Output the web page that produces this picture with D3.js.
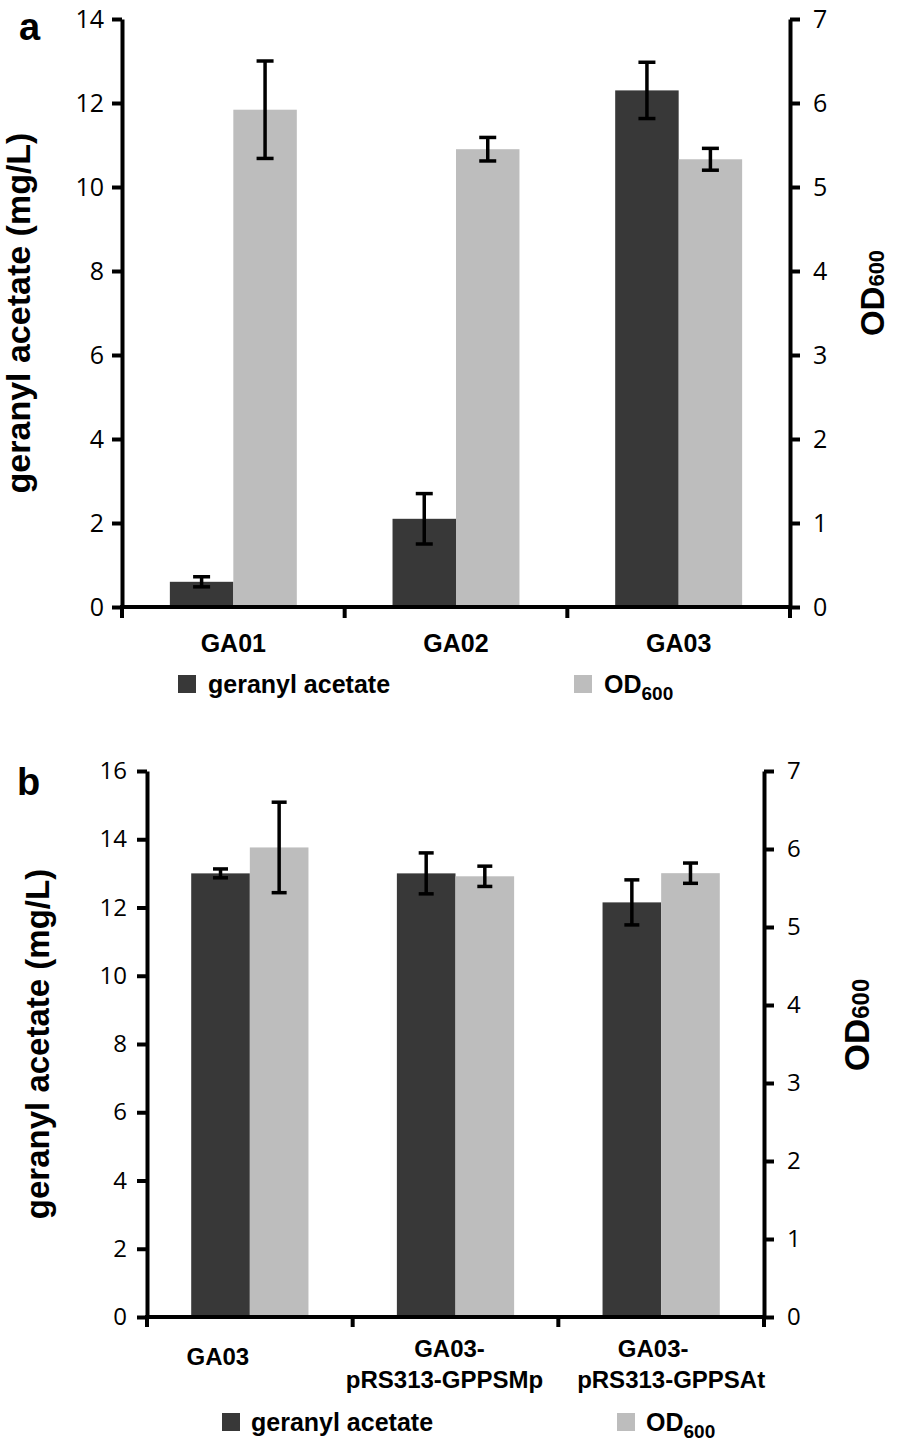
<!DOCTYPE html>
<html>
<head>
<meta charset="utf-8">
<script src="https://cdn.jsdelivr.net/npm/d3@7"></script>
<style>
  html, body { margin: 0; padding: 0; background: #fff; }
  svg { display: block; }
</style>
</head>
<body>
<svg id="chart" width="898" height="1445"></svg>
<script>
// ---------------- DATA ----------------
// Panel a
const catsA = ["GA01", "GA02", "GA03"];
const geranylA = [0.6, 2.1, 12.3];
const geranylErrA = [0.12, 0.6, 0.67];
const odA = [5.92, 5.45, 5.33];
const odErrA = [0.58, 0.14, 0.13];
const leftTicksA = [0, 2, 4, 6, 8, 10, 12, 14];
const rightTicksA = [0, 1, 2, 3, 4, 5, 6, 7];

// Panel b
const catsB = ["GA03", "GA03-pRS313-GPPSMp", "GA03-pRS313-GPPSAt"];
const catLinesB = [["GA03"], ["GA03-", "pRS313-GPPSMp"], ["GA03-", "pRS313-GPPSAt"]];
const geranylB = [13.0, 13.0, 12.15];
const geranylErrB = [0.13, 0.6, 0.66];
const odB = [6.02, 5.65, 5.69];
const odErrB = [0.58, 0.13, 0.13];
const leftTicksB = [0, 2, 4, 6, 8, 10, 12, 14, 16];
const rightTicksB = [0, 1, 2, 3, 4, 5, 6, 7];

const seriesKeys = ["geranyl", "od"];
const leftTitle = "geranyl acetate (mg/L)";
const legendLabels = ["geranyl acetate", "OD"];
const odSub = "600";

// ---------------- STYLE ----------------
const DARK = "#383838", LIGHT = "#bdbdbd";
const BOLD = "'Liberation Sans', Arial, Helvetica, sans-serif";
const TICKFONT = "'Open Sans', 'Noto Sans', sans-serif";
const SW = 4;

const svg = d3.select("#chart");

function drawPanel(cfg) {
  const g = svg.append("g");
  const y = d3.scaleLinear().domain([0, cfg.leftMax]).range([cfg.yBot, cfg.yTop]);
  const y2 = d3.scaleLinear().domain([0, cfg.rightMax]).range([cfg.yBot, cfg.yTop]);
  const x = d3.scaleBand().domain(cfg.cats).range([cfg.x0, cfg.x1]).padding(0);
  const xs = d3.scaleBand().domain(seriesKeys).range([0, x.bandwidth()])
    .paddingInner(0).paddingOuter(0.754);

  const rows = cfg.cats.map((c, i) => ({
    cat: c,
    vals: [
      { key: "geranyl", v: cfg.g[i], e: cfg.gErr[i], sc: y, fill: DARK },
      { key: "od", v: cfg.od[i], e: cfg.odErr[i], sc: y2, fill: LIGHT }
    ]
  }));

  const grp = g.selectAll("g.cat").data(rows).join("g")
    .attr("transform", d => `translate(${x(d.cat)},0)`);

  grp.selectAll("rect").data(d => d.vals).join("rect")
    .attr("x", d => xs(d.key))
    .attr("width", xs.bandwidth())
    .attr("y", d => d.sc(d.v))
    .attr("height", d => d.sc(0) - d.sc(d.v))
    .attr("fill", d => d.fill);

  // error bars
  const eb = grp.selectAll("g.eb").data(d => d.vals).join("g")
    .attr("transform", d => `translate(${xs(d.key) + xs.bandwidth() / 2},0)`)
    .attr("stroke", "#000").attr("stroke-width", 3.5);
  eb.append("line").attr("x1", 0).attr("x2", 0)
    .attr("y1", d => d.sc(d.v + d.e)).attr("y2", d => d.sc(d.v - d.e));
  eb.append("line").attr("x1", -cfg.cap).attr("x2", cfg.cap)
    .attr("y1", d => d.sc(d.v + d.e)).attr("y2", d => d.sc(d.v + d.e));
  eb.append("line").attr("x1", -cfg.cap).attr("x2", cfg.cap)
    .attr("y1", d => d.sc(d.v - d.e)).attr("y2", d => d.sc(d.v - d.e));

  // left axis
  const la = g.append("g").attr("transform", `translate(${cfg.x0},0)`)
    .call(d3.axisLeft(y).tickValues(cfg.leftTicks).tickSize(10).tickSizeOuter(0)
      .tickPadding(cfg.lpad).tickFormat(d3.format("d")));
  // right axis
  const ra = g.append("g").attr("transform", `translate(${cfg.x1},0)`)
    .call(d3.axisRight(y2).tickValues(cfg.rightTicks).tickSize(10).tickSizeOuter(0)
      .tickPadding(cfg.rpad).tickFormat(d3.format("d")));
  [la, ra].forEach(a => {
    a.selectAll("path.domain").attr("stroke", "#000").attr("stroke-width", SW);
    a.selectAll(".tick line").attr("stroke", "#000").attr("stroke-width", SW);
    a.selectAll(".tick text").attr("fill", "#000")
      .style("font-family", TICKFONT).style("font-size", cfg.tickFont + "px");
  });

  // x axis
  const xa = g.append("g");
  xa.append("line").attr("x1", cfg.x0 - SW / 2).attr("x2", cfg.x1 + SW / 2)
    .attr("y1", cfg.yBot).attr("y2", cfg.yBot)
    .attr("stroke", "#000").attr("stroke-width", SW);
  const bounds = cfg.cats.map(c => x(c)).concat([x.range()[1]]);
  xa.selectAll("line.xt").data(bounds).join("line").attr("class", "xt")
    .attr("x1", d => d).attr("x2", d => d)
    .attr("y1", cfg.yBot).attr("y2", cfg.yBot + cfg.xTick)
    .attr("stroke", "#000").attr("stroke-width", SW);

  // category labels
  const lab = xa.selectAll("text.cl").data(cfg.lines.map((l, i) => ({ l, i }))).join("text")
    .attr("class", "cl")
    .attr("text-anchor", "middle")
    .style("font-family", BOLD).style("font-weight", "bold")
    .style("font-size", cfg.catFont + "px");
  lab.each(function (d) {
    const t = d3.select(this);
    const cx = x(cfg.cats[d.i]) + x.bandwidth() / 2;
    const base = d.l.length === 1 ? cfg.catY1 : cfg.catY2;
    d.l.forEach((s, j) => {
      t.append("tspan").attr("x", cx + (cfg.labelDx ? cfg.labelDx[d.i][j] : 0))
        .attr("y", base + j * cfg.lineH).text(s);
    });
  });

  // left title
  g.append("text")
    .attr("transform", `translate(${cfg.ltX},${(cfg.yTop + cfg.yBot) / 2}) rotate(-90)`)
    .attr("text-anchor", "middle")
    .style("font-family", BOLD).style("font-weight", "bold")
    .style("font-size", cfg.ltFont + "px")
    .text(leftTitle);

  // right title OD600
  const rt = g.append("text")
    .attr("transform", `translate(${cfg.rtX},${cfg.rtY}) rotate(-90)`)
    .attr("text-anchor", "middle")
    .style("font-family", BOLD).style("font-weight", "bold")
    .style("font-size", cfg.rtFont + "px");
  rt.append("tspan").text(legendLabels[1]);
  rt.append("tspan").style("font-size", Math.round(cfg.rtFont * 0.68) + "px").text(odSub);

  // panel letter
  g.append("text").attr("x", cfg.letterX).attr("y", cfg.letterY)
    .style("font-family", BOLD).style("font-weight", "bold").style("font-size", "38px")
    .text(cfg.letter);

  // legend
  const lg = g.append("g");
  [0, 1].forEach(i => {
    lg.append("rect").attr("x", cfg.legX[i]).attr("y", cfg.legY - 18)
      .attr("width", 18).attr("height", 18).attr("fill", i === 0 ? DARK : LIGHT);
    const t = lg.append("text").attr("x", cfg.legX[i] + cfg.legGap).attr("y", cfg.legY)
      .style("font-family", BOLD).style("font-weight", "bold").style("font-size", "25px");
    t.append("tspan").text(legendLabels[i]);
    if (i === 1) t.append("tspan").attr("dy", 7).style("font-size", "19px").text(odSub);
  });
}

drawPanel({
  cats: catsA, lines: catsA.map(c => [c]), g: geranylA, gErr: geranylErrA, od: odA, odErr: odErrA,
  leftTicks: leftTicksA, rightTicks: rightTicksA, leftMax: 14, rightMax: 7,
  x0: 122, x1: 790, yTop: 19, yBot: 607, cap: 8.5,
  lpad: 8, rpad: 13, tickFont: 25, xTick: 11,
  catFont: 25, catY1: 652, catY2: 652, lineH: 31,
  ltX: 30, ltFont: 34, rtX: 884, rtY: 293, rtFont: 33,
  letter: "a", letterX: 19, letterY: 40,
  legX: [178, 574], legY: 693, legGap: 30
});

drawPanel({
  cats: catsB, lines: catLinesB, g: geranylB, gErr: geranylErrB, od: odB, odErr: odErrB,
  leftTicks: leftTicksB, rightTicks: rightTicksB, leftMax: 16, rightMax: 7,
  x0: 147, x1: 764, yTop: 771, yBot: 1317, cap: 7.5,
  lpad: 10, rpad: 13, tickFont: 24, xTick: 10,
  catFont: 24, catY1: 1365, catY2: 1357, lineH: 31,
  labelDx: [[-32], [-6, -11], [-8, 10]],
  ltX: 49, ltFont: 33, rtX: 869, rtY: 1025, rtFont: 35,
  letter: "b", letterX: 17, letterY: 795,
  legX: [222, 617], legY: 1431, legGap: 29
});
</script>
</body>
</html>
